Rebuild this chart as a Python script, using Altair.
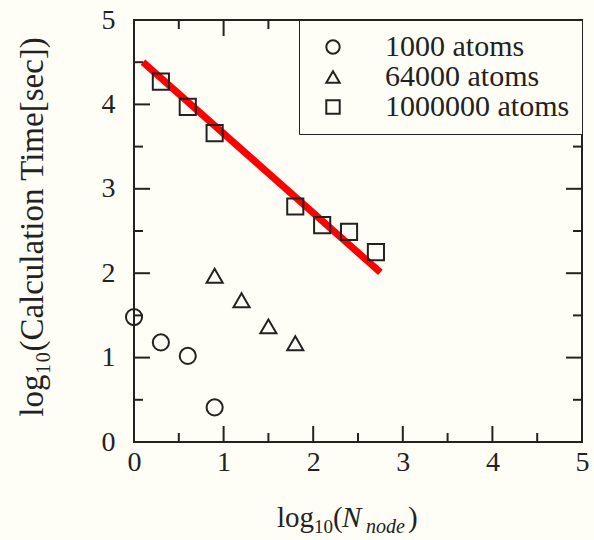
import altair as alt
import pandas as pd

# ---- data ----
series_names = ["1000 atoms", "64000 atoms", "1000000 atoms"]

x_1000 = [0.0, 0.3, 0.6, 0.9]
y_1000 = [1.48, 1.18, 1.02, 0.41]

x_64000 = [0.9, 1.2, 1.5, 1.8]
y_64000 = [1.97, 1.68, 1.37, 1.17]

x_1000000 = [0.3, 0.6, 0.9, 1.8, 2.1, 2.4, 2.7]
y_1000000 = [4.27, 3.97, 3.66, 2.79, 2.57, 2.49, 2.25]

fit_x = [0.1, 2.75]
fit_y = [4.50, 2.01]

major_ticks = [1, 2, 3, 4]
minor_ticks = [0.5, 1.5, 2.5, 3.5, 4.5]
axis_values = [0, 1, 2, 3, 4, 5]

W, H = 448, 422
FONT = "Liberation Serif"
BG = "#fffef6"

rows = []
for name, xs, ys in [(series_names[0], x_1000, y_1000),
                     (series_names[1], x_64000, y_64000),
                     (series_names[2], x_1000000, y_1000000)]:
    for a, b in zip(xs, ys):
        rows.append({"series": name, "x": a, "y": b})
pts = pd.DataFrame(rows)
fit = pd.DataFrame({"x": fit_x, "y": fit_y})
maj = pd.DataFrame({"v": major_ticks})
mnr = pd.DataFrame({"v": minor_ticks})

xscale = alt.Scale(domain=[0, 5], nice=False, zero=False)
yscale = alt.Scale(domain=[0, 5], nice=False, zero=False)

xaxis = alt.Axis(values=axis_values, format="d", ticks=False, domain=False, grid=False,
                 labelFont=FONT, labelFontSize=28, labelColor="#222",
                 labelPadding=6, title=None, labelFlush=False)
yaxis = alt.Axis(values=axis_values, format="d", ticks=False, domain=False, grid=False,
                 labelFont=FONT, labelFontSize=28, labelColor="#222",
                 labelPadding=19, title=None, labelFlush=False)

points = alt.Chart(pts).mark_point(filled=False, strokeWidth=2, size=260, opacity=1).encode(
    x=alt.X("x:Q", scale=xscale, axis=xaxis),
    y=alt.Y("y:Q", scale=yscale, axis=yaxis),
    shape=alt.Shape("series:N",
                    scale=alt.Scale(domain=series_names,
                                    range=["circle", "triangle-up", "square"]),
                    legend=alt.Legend(title=None, orient="top-right", offset=0,
                                      labelFont=FONT, labelFontSize=30,
                                      labelColor="#222", labelLimit=400,
                                      symbolSize=180, symbolStrokeWidth=2,
                                      symbolStrokeColor="#222",
                                      symbolFillColor="transparent",
                                      symbolOffset=7, labelOffset=37,
                                      rowPadding=0, padding=12,
                                      strokeColor="#222", fillColor=BG)),
    color=alt.value("#222"),
)

line = alt.Chart(fit).mark_line(color="#ff0000", strokeWidth=7).encode(
    x=alt.X("x:Q", scale=xscale),
    y=alt.Y("y:Q", scale=yscale),
)

def tick_layers(df, length):
    base = alt.Chart(df).mark_rule(color="#222", strokeWidth=2)
    return [
        base.encode(x=alt.X("v:Q", scale=xscale), y=alt.value(H), y2=alt.value(H - length)),
        base.encode(x=alt.X("v:Q", scale=xscale), y=alt.value(0), y2=alt.value(length)),
        base.encode(y=alt.Y("v:Q", scale=yscale), x=alt.value(0), x2=alt.value(length)),
        base.encode(y=alt.Y("v:Q", scale=yscale), x=alt.value(W), x2=alt.value(W - length)),
    ]

ticks = tick_layers(maj, 16) + tick_layers(mnr, 9)

lbl = pd.DataFrame({"t": [0]})

def txt(s, x, y, size, angle=0, style="normal", align="left", baseline="alphabetic"):
    return alt.Chart(lbl).mark_text(text=s, font=FONT, fontSize=size, fontStyle=style,
                                    angle=angle, align=align, baseline=baseline,
                                    color="#222").encode(
        x=alt.value(x), y=alt.value(y))

# x title: log10(N_node)
ox, oy = 134, 20
titles = [
    txt("log", 277 - ox, 527 - oy, 29),
    txt("10", 314 - ox, 533 - oy, 19),
    txt("(", 333 - ox, 527 - oy, 29),
    txt("N", 342 - ox, 527 - oy, 29, style="italic"),
    txt("node", 366 - ox, 533 - oy, 20, style="italic"),
    txt(")", 408 - ox, 527 - oy, 29),
    txt("log\u2081\u2080(Calculation Time[sec])", 33 - ox, 227 - oy, 33,
        angle=270, align="center", baseline="middle"),
]

chart = alt.layer(*ticks, line, points, *titles).properties(
    width=W, height=H,
    autosize=alt.AutoSizeParams(type="none"),
    padding={"left": 134, "top": 20, "right": 12, "bottom": 98},
    background=BG,
).configure(font=FONT).configure_view(stroke="#222", strokeWidth=2)

chart.save("out.html", embed_options={"renderer": "svg", "actions": False})
